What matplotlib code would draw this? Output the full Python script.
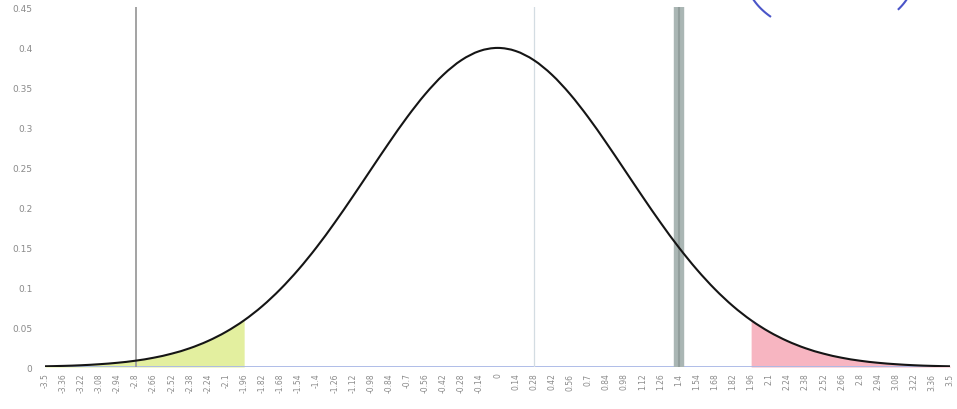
import numpy as np
import matplotlib
matplotlib.use("Agg")
import matplotlib.pyplot as plt
from matplotlib.path import Path
from matplotlib.patches import PathPatch

# x positions (category ticks) and density values
x_vals = [-3.5, -3.36, -3.22, -3.08, -2.94, -2.8, -2.66, -2.52, -2.38, -2.24,
          -2.1, -1.96, -1.82, -1.68, -1.54, -1.4, -1.26, -1.12, -0.98, -0.84,
          -0.7, -0.56, -0.42, -0.28, -0.14, 0, 0.14, 0.28, 0.42, 0.56,
          0.7, 0.84, 0.98, 1.12, 1.26, 1.4, 1.54, 1.68, 1.82, 1.96,
          2.1, 2.24, 2.38, 2.52, 2.66, 2.8, 2.94, 3.08, 3.22, 3.36, 3.5]
density = [0.0009, 0.0014, 0.0022, 0.0035, 0.0053, 0.0079, 0.0116, 0.0167, 0.0235, 0.0325,
           0.0440, 0.0584, 0.0761, 0.0973, 0.1219, 0.1497, 0.1804, 0.2131, 0.2468, 0.2803,
           0.3123, 0.3411, 0.3653, 0.3836, 0.3950, 0.3989, 0.3950, 0.3836, 0.3653, 0.3411,
           0.3123, 0.2803, 0.2468, 0.2131, 0.1804, 0.1497, 0.1219, 0.0973, 0.0761, 0.0584,
           0.0440, 0.0325, 0.0235, 0.0167, 0.0116, 0.0079, 0.0053, 0.0035, 0.0022, 0.0014,
           0.0009]
x_labels = ["-3.5", "-3.36", "-3.22", "-3.08", "-2.94", "-2.8", "-2.66", "-2.52", "-2.38", "-2.24",
            "-2.1", "-1.96", "-1.82", "-1.68", "-1.54", "-1.4", "-1.26", "-1.12", "-0.98", "-0.84",
            "-0.7", "-0.56", "-0.42", "-0.28", "-0.14", "0", "0.14", "0.28", "0.42", "0.56",
            "0.7", "0.84", "0.98", "1.12", "1.26", "1.4", "1.54", "1.68", "1.82", "1.96",
            "2.1", "2.24", "2.38", "2.52", "2.66", "2.8", "2.94", "3.08", "3.22", "3.36", "3.5"]
y_ticks = [0, 0.05, 0.1, 0.15, 0.2, 0.25, 0.3, 0.35, 0.4, 0.45]
y_labels = ["0", "0.05", "0.1", "0.15", "0.2", "0.25", "0.3", "0.35", "0.4", "0.45"]
left_cut = -1.96
right_cut = 1.96
vlines = [-2.8, 0.28, 1.4]

x = np.array(x_vals)
y = np.array(density)

fig = plt.figure(figsize=(9.57, 4.10), dpi=100)
ax = fig.add_axes([0.047, 0.1024, 0.946, 0.878])

ax.fill_between(x, 0, y, where=x <= left_cut + 1e-9, color="#e3ef9f", lw=0, zorder=1)
ax.fill_between(x, 0, y, where=x >= right_cut - 1e-9, color="#f7b5c1", lw=0, zorder=1)

ax.axhline(0, color="#a9b8e6", lw=1.3, zorder=2)
ax.axvline(vlines[0], color="#9c9c9c", lw=1.3, zorder=2)
ax.axvline(vlines[1], color="#d3dce2", lw=0.9, zorder=2)
ax.axvline(vlines[2], color="#aab6b4", lw=7.5, zorder=2)
ax.axvline(vlines[2], color="#929e9c", lw=1.5, zorder=2)

# smoothed line through the data points (Catmull-Rom as cubic Bezier, like a spreadsheet "smoothed line")
pts = np.column_stack([x, y])
ext = np.vstack([pts[0], pts, pts[-1]])
verts = [tuple(pts[0])]
codes = [Path.MOVETO]
for i in range(len(pts) - 1):
    p0, p1, p2, p3 = ext[i], ext[i + 1], ext[i + 2], ext[i + 3]
    c1 = p1 + (p2 - p0) / 6.0
    c2 = p2 - (p3 - p1) / 6.0
    verts += [tuple(c1), tuple(c2), tuple(p2)]
    codes += [Path.CURVE4, Path.CURVE4, Path.CURVE4]
ax.add_patch(PathPatch(Path(verts, codes), facecolor="none", edgecolor="#151515", lw=1.5, zorder=3))

ax.set_xlim(-3.5, 3.5)
ax.set_ylim(0, 0.45)
ax.set_xticks(x)
ax.set_xticklabels(x_labels, rotation=90, fontsize=5.5, color="#8a8a8a")
ax.set_yticks(y_ticks)
ax.set_yticklabels(y_labels, fontsize=6.5, color="#8a8a8a")
ax.tick_params(length=0, pad=4)
ax.tick_params(axis="y", pad=9)
for s in ax.spines.values():
    s.set_visible(False)

# handwritten blue marks at top right (decoration)
ov = fig.add_axes([0, 0, 1, 1], facecolor="none")
ov.set_xlim(0, 957)
ov.set_ylim(410, 0)
ov.axis("off")
cx, cy, a, b = 830, -25.7, 85, 60.6
t1 = np.linspace(np.pi - np.arcsin(0.40), np.pi - np.arcsin(0.71), 30)
ov.plot(cx + a * np.cos(t1), cy + b * np.sin(t1), color="#4a55c8", lw=1.5)
t2 = np.linspace(np.arcsin(0.40), np.arcsin(0.59), 30)
ov.plot(cx + a * np.cos(t2), cy + b * np.sin(t2), color="#4a55c8", lw=1.5)

fig.savefig("out.png", dpi=100)
